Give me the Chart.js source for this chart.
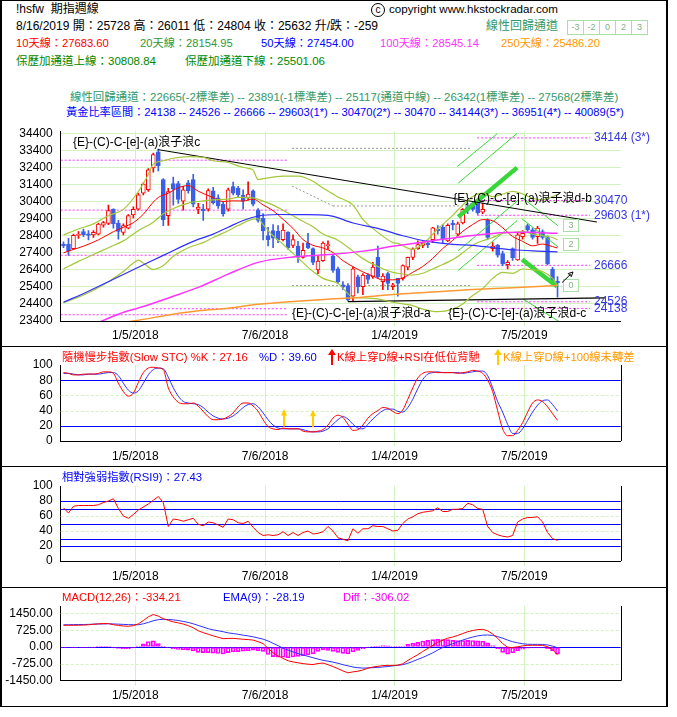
<!DOCTYPE html>
<html>
<head>
<meta charset="utf-8">
<script src="https://cdn.jsdelivr.net/npm/chart.js@4.4.0/dist/chart.umd.min.js"></script>
<style>
body{margin:0;background:#fff;}
#page{position:relative;width:677px;height:717px;overflow:hidden;font-family:"Liberation Sans","Noto Sans CJK TC",sans-serif;font-size:12px;}
.t{position:absolute;white-space:nowrap;line-height:14px;}
.s{font-size:11.3px;}
canvas{position:absolute;left:0;}
.f{position:absolute;background:#000;z-index:5;}
.bx{position:absolute;top:20px;width:15px;height:13px;border:1px solid #a8e0a8;color:#7fb07f;font-size:9px;line-height:13px;text-align:center;}
</style>
</head>
<body>
<div id="page">
  <div class="t" style="left:16px;top:2px;">!hsfw&nbsp;&nbsp;期指週線</div>
  <div class="t" style="left:371px;top:3px;width:12px;height:12px;border:1px solid #000;border-radius:50%;text-align:center;line-height:12px;font-size:10px;">c</div>
  <div class="t" style="left:389px;top:2px;font-size:11.6px;">copyright www.hkstockradar.com</div>
  <div class="t" style="left:16px;top:19px;">8/16/2019 開：25728 高：26011 低：24804 收：25632 升/跌：-259</div>
  <div class="t" style="left:486px;top:19px;color:#339966;">線性回歸通道</div>
  <div class="bx" style="left:567px;">-3</div>
  <div class="bx" style="left:583px;">-2</div>
  <div class="bx" style="left:599px;">0</div>
  <div class="bx" style="left:615px;">2</div>
  <div class="bx" style="left:631px;">3</div>
  <div class="t" style="left:16px;top:36px;color:#ff0000;font-size:11.2px;">10天線：27683.60</div>
  <div class="t" style="left:140px;top:36px;color:#339933;font-size:11.2px;">20天線：28154.95</div>
  <div class="t" style="left:261px;top:36px;color:#0000ff;font-size:11.2px;">50天線：27454.00</div>
  <div class="t" style="left:380px;top:36px;color:#ff33ff;font-size:11.2px;">100天線：28545.14</div>
  <div class="t" style="left:501px;top:36px;color:#ff9900;font-size:11.2px;">250天線：25486.20</div>
  <div class="t" style="left:16px;top:54px;color:#008800;font-size:11.5px;">保歷加通道上線：30808.84</div>
  <div class="t" style="left:185px;top:54px;color:#008800;font-size:11.5px;">保歷加通道下線：25501.06</div>
  <div class="t" style="left:70px;top:90px;color:#339966;font-size:11.45px;">線性回歸通道：22665(-2標準差) -- 23891(-1標準差) -- 25117(通道中線) -- 26342(1標準差) -- 27568(2標準差)</div>
  <div class="t" style="left:66px;top:105px;color:#0000ff;font-size:11.2px;">黃金比率區間：24138 -- 24526 -- 26666 -- 29603(1*) -- 30470(2*) -- 30470 -- 34144(3*) -- 36951(4*) -- 40089(5*)</div>

  <canvas id="mainChart" width="677" height="230" style="top:116px"></canvas>
  <canvas id="stochChart" width="677" height="119" style="top:347px"></canvas>
  <canvas id="rsiChart" width="677" height="120" style="top:467px"></canvas>
  <canvas id="macdChart" width="677" height="118" style="top:588px"></canvas>

  <div class="t s" style="left:62px;top:350px;color:#ff0000;z-index:6">隨機慢步指數(Slow STC) %K：27.16</div>
  <div class="t s" style="left:259px;top:350px;color:#0000ff;z-index:6">%D：39.60</div>
  <svg class="t" style="left:328px;top:349px;z-index:6" width="8" height="16"><path d="M4 0 L8 6 L5 6 L5 16 L3 16 L3 6 L0 6 Z" fill="#ff0000"/></svg>
  <div class="t s" style="left:337px;top:350px;color:#ff0000;z-index:6">K線上穿D線+RSI在低位背馳</div>
  <svg class="t" style="left:494px;top:349px;z-index:6" width="8" height="16"><path d="M4 0 L8 6 L5 6 L5 16 L3 16 L3 6 L0 6 Z" fill="#ffcc00"/></svg>
  <div class="t s" style="left:503px;top:350px;color:#ff9900;z-index:6">K線上穿D線+100線未轉差</div>
  <div class="t s" style="left:62px;top:470px;color:#0000ff;z-index:6">相對強弱指數(RSI9)：27.43</div>
  <div class="t s" style="left:62px;top:590px;color:#ff0000;z-index:6">MACD(12,26)：-334.21</div>
  <div class="t s" style="left:223px;top:590px;color:#0000ff;z-index:6">EMA(9)：-28.19</div>
  <div class="t s" style="left:343px;top:590px;color:#ff00ff;z-index:6">Diff：-306.02</div>

  <div class="f" style="left:0;top:0;width:668px;height:1px"></div>
  <div class="f" style="left:0;top:0;width:2px;height:707px"></div>
  <div class="f" style="left:666px;top:0;width:2px;height:707px"></div>
  <div class="f" style="left:0;top:346px;width:668px;height:1px"></div>
  <div class="f" style="left:0;top:466px;width:668px;height:1px"></div>
  <div class="f" style="left:0;top:587px;width:668px;height:1px"></div>
  <div class="f" style="left:0;top:706px;width:668px;height:1px"></div>
</div>
<script>
// weekly bars, 9/22/2017 .. 8/16/2019 (index = week number)
const dates = ['1/5/2018', '7/6/2018', '1/4/2019', '7/5/2019'];
const datePos = [14.4, 40.4, 66.35, 92.35];

const open = [27920,27920,27650,28420,28650,28520,28450,28500,29020,29120,
  29960,29150,28600,28850,29620,29960,30900,31100,32380,33320,
  31700,29580,31470,31470,30430,31500,31700,29950,29960,29960,
  31040,30620,30240,29960,31280,31190,30770,30620,31040,29920,
  29430,28410,28700,28680,28170,28600,27840,27790,27130,27970,
  27650,26400,26940,27820,27220,26460,25520,25460,24860,25990,
  25420,26090,25990,27130,25710,26180,25420,25900,25900,26560,
  27130,27650,27840,27970,28170,28800,28900,28100,29150,28500,
  29150,30100,30300,30350,29780,29300,27650,27840,27350,26710,
  27650,26980,28350,29000,28750,28350,28650,28300,26450,25728];
const high = [28050,28250,28500,28650,28800,28700,28700,29150,29250,30200,
  29980,29300,29100,29650,30100,30900,31500,32350,33250,33480,
  31750,31190,31850,31600,31300,31650,32000,30300,30250,31150,
  31250,30800,30400,31200,31550,31300,31100,31570,31100,30000,
  29700,28900,29050,29000,29100,28650,28450,28070,27970,28540,
  27700,27220,28050,28100,27300,26560,25710,25600,26560,26100,
  26180,26180,26840,27790,26180,26270,25610,25900,26700,27150,
  27700,28100,28050,28100,28900,29000,29050,29100,29300,29200,
  30000,30300,30400,30400,30300,29400,28000,27900,27500,26950,
  27700,28550,28700,29100,28850,28950,28750,28400,26550,26011];
const low = [27700,27250,27600,28250,28350,28150,28300,28450,28900,29050,
  28850,28200,28450,28800,29450,29900,30800,31000,32130,32200,
  29000,29015,30200,30300,29900,30900,30100,29700,29300,29850,
  30250,30000,29550,29850,30800,30700,29960,30500,30150,29200,
  28150,27800,27700,28000,28100,27600,27700,26840,27090,27650,
  26710,26180,26900,27600,26250,25610,25240,24570,24570,25050,
  24950,25610,25900,25900,25240,25240,25240,24860,25800,26400,
  27000,27600,27700,27700,28000,28500,28000,28050,28750,28400,
  29100,29700,29850,29650,29700,28200,27500,27150,26650,26460,
  26950,26950,28200,28650,28200,27950,28200,26700,25600,24804];
const close = [27800,27500,28420,28480,28470,28420,28600,29080,29170,29880,
  29100,28650,29000,29580,29950,30810,31430,32270,33170,32510,
  29350,31000,31130,30530,31090,31050,30250,30080,29870,31050,
  30340,30150,29680,31090,30900,30810,30430,30850,30250,29300,
  28680,28170,28260,28170,28730,27690,28170,27130,27540,27690,
  26840,26920,27970,27880,26370,25710,25390,24630,26460,25420,
  26090,25840,26560,25990,26030,25610,25520,25610,26650,27130,
  27640,27880,27970,27880,28860,28700,28200,29020,29050,29100,
  29950,29900,29950,29750,29950,28300,27790,27260,26750,26840,
  27100,28450,28550,28750,28300,28850,28300,26750,25760,25632];

// moving averages / bands, [week, value]
const ma10 = [[0,27400],[2,27600],[4,27790],[7,28160],[10,28640],[12,28900],[14,29170],[16,29665],[18,30380],[19,30650],
  [21,30900],[23,31215],[25,31350],[27,31016],[30,30640],[32,30410],[34,30450],[36,30440],[38,30555],[40,30210],
  [42,29870],[44,29365],[46,28830],[48,28180],[50,27840],[52,27685],[54,27420],[56,26940],[58,26590],[60,26280],
  [62,26035],[64,25810],[66,25815],[68,25930],[70,26260],[72,26600],[74,27075],[76,27650],[78,28130],[80,28660],
  [82,29060],[84,29350],[86,29280],[88,28870],[90,28360],[92,28075],[94,27810],[96,27915],[98,27765],[99,27684]];
const ma20 = [[0,26460],[3,26900],[6,27300],[9,27700],[12,28100],[15,28700],[18,29200],[20,29690],[22,30000],[25,30320],
  [28,30450],[30,30510],[33,30550],[35,30650],[38,30620],[40,30430],[42,30200],[44,29900],[47,29400],[50,28930],
  [52,28500],[55,28140],[58,27500],[60,27060],[63,26600],[66,26250],[67,26200],[70,26100],[72,26200],[75,26590],
  [78,27000],[80,27400],[82,27850],[84,28110],[86,28300],[88,28550],[90,28600],[92,28650],[94,28500],[96,28400],
  [98,28300],[99,28155]];
const bbUpper = [[0,28450],[3,28800],[6,29100],[9,29580],[12,29950],[15,31000],[17,32000],[18,32600],[20,32800],[22,32950],
  [25,33050],[28,33000],[30,32800],[33,32700],[35,32500],[37,32350],[38,32250],[39,31700],[40,31750],[44,31900],
  [47,31900],[50,31600],[52,31200],[55,30680],[58,30200],[60,29360],[63,28600],[66,28000],[67,27950],[70,27600],
  [72,27900],[75,28800],[78,29600],[80,30200],[82,30700],[84,30900],[86,30700],[88,30850],[90,31000],[92,30850],
  [94,30600],[96,30500],[98,30700],[99,30809]];
const bbLower = [[0,24480],[3,24800],[6,25200],[9,25700],[12,26300],[14,26800],[15,26970],[16,26800],[18,26420],[20,26650],
  [22,27200],[25,27700],[28,28000],[30,28300],[33,28700],[35,29000],[38,29380],[39,29400],[40,29050],[42,28400],
  [44,27900],[47,27100],[50,26300],[52,25900],[55,25600],[58,24800],[60,24760],[63,24700],[66,24500],[68,24400],
  [70,24300],[72,24100],[75,23950],[78,24100],[80,24400],[82,24900],[84,25300],[86,25900],[88,26250],[90,26200],
  [92,26450],[94,26400],[96,26300],[98,25900],[99,25501]];
const ma50 = [[0,24500],[5,25150],[10,25850],[15,26550],[20,27250],[26,28070],[30,28500],[33,28900],[36,29300],[39,29560],
  [43,29650],[48,29640],[53,29600],[58,29150],[63,28830],[68,28400],[73,28070],[78,27900],[82,27840],[86,27700],
  [90,27580],[95,27500],[99,27454]];
const ma100 = [[0,22300],[3,22750],[7,23310],[11,23800],[16,24250],[22,24850],[27,25370],[33,26150],[39,26840],[46,27160],
  [54,27310],[60,27500],[66,27780],[73,28070],[80,28350],[86,28540],[93,28600],[99,28545]];
const ma250 = [[0,22700],[7,23100],[15,23450],[22,23800],[27,24000],[33,24150],[39,24380],[46,24550],[54,24700],[60,24800],
  [66,24950],[73,25080],[81,25230],[90,25350],[99,25486]];

// drawn lines: [week0, value0, week1, value1]
const trendTop = [18.9, 33457, 106.9, 29207];
const trendBottom = [57, 24540, 108.5, 24760];
const upChannel = [[78.9, 32460, 86.9, 34390], [79.1, 31490, 90.9, 34410], [79.1, 29510, 90.9, 32400],
  [79.1, 27520, 90.9, 30430], [79.1, 26370, 90.9, 29290]];
const downChannel = [[91.9, 30640, 99.1, 28990], [91.9, 29390, 99.1, 27750], [91.9, 27010, 98.9, 25420],
  [92.1, 24690, 99.5, 23330]];
const grayLines = [[45.8, 33530, 81.5, 33530], [45.8, 31320, 54, 30150], [54, 30150, 81.5, 30150], [45.8, 25480, 81.5, 25480]];
const goldOld = [32835, 29905, 27257, 23765];
const goldOld2 = 24120;
const goldNew = [34144, 30470, 29603, 26666, 24526, 24138];
const goldTags = [' (3*)', '', ' (1*)', '', '', ''];

const stochK = [90,89,87,87,88,88,88,89,91,91, 89,76,65,59,63,77,90,96,97,96,
  94,70,58,51,49,49,50,46,39,32, 28,28,29,32,37,45,50,50,46,39,
  28,19,16,15,17,16,16,16,13,12, 12,13,15,21,30,34,31,22,14,15,
  21,30,36,40,44,43,39,36,41,55, 70,83,89,91,91,90,90,90,90,89,
  90,91,93,92,89,80,65,40,16,7, 7,14,24,38,50,54,52,45,36,27.16];
const stochD = [89,89,88,87,87,88,88,88,89,90, 90,86,76,67,63,66,76,87,94,96,
  95,84,70,59,52,50,49,48,44,38, 33,30,29,30,33,38,44,48,49,45,
  37,28,21,17,16,16,16,16,15,13, 12,12,13,16,22,28,32,29,22,17,
  16,22,29,35,40,42,42,39,38,44, 55,69,81,88,90,91,90,90,90,90,
  89,90,91,92,92,86,70,52,38,22, 10,10,16,27,38,47,53,54,48,39.6];
const rsi9 = [71,64,73,74,74,74,74,75,78,80, 83,70,60,57,62,68,72,76,81,86,
  78,46,56,55,53,55,57,49,47,52, 51,48,45,56,55,51,50,53,45,38,
  34,35,34,35,39,34,38,34,38,40, 36,37,39,46,40,31,29,27,43,37,
  43,43,47,46,46,43,40,41,50,56, 59,63,65,66,67,71,66,66,69,69,
  70,77,75,70,69,46,38,35,33,32, 34,52,56,58,58,59,52,38,30,27.43];
const macd = [937,937,937,940,945,960,980,1000,1010,1010, 960,930,905,894,920,1000,1140,1300,1400,1330,
  1220,1150,1084,1040,990,920,830,700,620,550, 480,420,360,370,375,355,335,320,300,230,
  150,-60,-250,-380,-490,-590,-640,-680,-715,-740, -755,-710,-690,-760,-840,-930,-1030,-1110,-1070,-1040,
  -990,-910,-860,-830,-800,-791,-791,-780,-720,-580, -450,-330,-190,-60,70,200,300,380,430,500,
  580,660,710,750,760,700,560,380,150,-10, -20,10,50,72,75,75,70,20,-120,-334.21];
const ema9 = [955,960,965,968,970,975,985,990,995,1000, 995,985,975,965,960,960,1000,1060,1130,1180,
  1190,1185,1170,1143,1100,1060,1000,930,860,790, 740,700,660,610,580,550,510,480,440,390,
  340,260,160,60,-50,-130,-210,-280,-340,-400, -460,-520,-570,-610,-650,-700,-760,-810,-860,-890,
  -908,-900,-890,-875,-860,-840,-810,-790,-760,-700, -620,-530,-450,-350,-250,-130,-20,60,140,220,
  300,370,430,480,510,520,500,450,380,300, 230,180,140,120,115,115,110,90,40,-28.19];
const diff = [-18,-23,-28,-28,-25,-15,-5,10,15,10, -35,-55,-70,-71,-40,40,140,240,270,150,
  30,-35,-86,-103,-110,-140,-170,-230,-240,-240, -260,-280,-300,-240,-205,-195,-175,-160,-140,-160,
  -190,-320,-410,-440,-440,-460,-430,-400,-375,-340, -295,-190,-120,-150,-190,-230,-270,-300,-210,-150,
  -82,-10,30,45,60,49,19,10,40,120, 170,200,260,290,320,330,320,320,290,280,
  280,290,280,270,250,180,60,-70,-230,-310, -250,-170,-90,-48,-40,-40,-40,-70,-160,-306.02];

const priceTicks = [23400,24400,25400,26400,27400,28400,29400,30400,31400,32400,33400,34400];
const pctTicks = [0,20,40,60,80,100];
const macdTicks = [-1450,-725,0,725,1450];

const FONT = '"Liberation Sans", "Noto Sans CJK TC", sans-serif';
const GRID = '#d2f2c2';
const RED = '#ff0000', CANDLE_BLUE = '#3b5fe8', LINE_BLUE = '#2f2fff';
const YGREEN = '#a3c93a', MAGENTA = '#ff33ff', ORANGE = '#ff9933', GREEN = '#39d639';
const X_MIN = -0.56, X_MAX = 111.66;

Chart.defaults.font.family = FONT;
Chart.defaults.font.size = 12;
Chart.defaults.color = '#000';

const weeks = close.map((c, i) => i);
const pts = arr => arr.map(([x, y]) => ({x, y}));
const series = arr => arr.map((y, x) => ({x, y}));
const seg = s => [{x: s[0], y: s[1]}, {x: s[2], y: s[3]}];

const line = (data, color, width, extra) => Object.assign({
  type: 'line', data: data, borderColor: color, borderWidth: width,
  pointRadius: 0, fill: false, order: 1, cubicInterpolationMode: 'monotone'
}, extra || {});

function xScale(h, pad){
  return {
    type: 'linear', min: X_MIN, max: X_MAX, offset: false,
    afterBuildTicks: s => { s.ticks = datePos.map(v => ({value: v})); },
    afterFit: s => { s.height = h; },
    ticks: {callback: (v, i) => dates[i], padding: pad, maxRotation: 0, autoSkip: false},
    grid: {color: GRID, tickColor: GRID, tickLength: 5, offset: false},
    border: {color: '#000'}
  };
}

function yScale(min, max, ticks, fmt, gridColor){
  return {
    min: min, max: max,
    afterBuildTicks: s => { s.ticks = ticks.map(v => ({value: v})); },
    afterFit: s => { s.width = 60.7; },
    ticks: {callback: fmt, padding: 8, autoSkip: false},
    grid: {color: gridColor, drawTicks: false},
    border: {color: '#000'}
  };
}

// extra drawing: reference levels, labels, arrows, boxes
function decor(cfg){
  return {
    id: 'decor',
    beforeDatasetsDraw(chart){
      const {ctx, chartArea: a, scales: {y}} = chart;
      ctx.save();
      (cfg.levels || []).forEach(h => {
        const py = Math.round(y.getPixelForValue(h.v)) + 0.5;
        ctx.strokeStyle = h.color;
        ctx.lineWidth = 1;
        ctx.setLineDash(h.dash || []);
        ctx.beginPath(); ctx.moveTo(a.left, py); ctx.lineTo(a.right, py); ctx.stroke();
      });
      ctx.restore();
    },
    afterDatasetsDraw(chart){
      const {ctx, chartArea: a, scales: {x, y}} = chart;
      ctx.save();
      ctx.textBaseline = 'middle';
      (cfg.texts || []).forEach(t => {
        ctx.font = '12px ' + FONT;
        ctx.fillStyle = t.color || '#000';
        ctx.fillText(t.t, x.getPixelForValue(t.x), y.getPixelForValue(t.y));
      });
      (cfg.boxes || []).forEach(b => {
        const px = Math.round(x.getPixelForValue(b.x)) + 0.5, py = Math.round(y.getPixelForValue(b.y)) - 6 + 0.5;
        ctx.fillStyle = '#fff';
        ctx.fillRect(px, py, 15, 12);
        ctx.strokeStyle = '#a8e0a8';
        ctx.lineWidth = 1;
        ctx.strokeRect(px, py, 15, 12);
        ctx.font = '9px ' + FONT;
        ctx.fillStyle = '#7fb07f';
        ctx.textAlign = 'center';
        ctx.fillText(b.t, px + 7.5, py + 6.5);
        ctx.textAlign = 'left';
      });
      (cfg.arrows || []).forEach(r => {
        const x0 = x.getPixelForValue(r.x0), y0 = y.getPixelForValue(r.y0);
        const x1 = x.getPixelForValue(r.x1), y1 = y.getPixelForValue(r.y1);
        const ang = Math.atan2(y1 - y0, x1 - x0), hl = r.head || 5;
        ctx.strokeStyle = r.color; ctx.fillStyle = r.color; ctx.lineWidth = r.width || 1;
        ctx.beginPath(); ctx.moveTo(x0, y0); ctx.lineTo(x1 - Math.cos(ang) * hl * 0.6, y1 - Math.sin(ang) * hl * 0.6); ctx.stroke();
        ctx.beginPath();
        ctx.moveTo(x1, y1);
        ctx.lineTo(x1 - hl * Math.cos(ang - 0.45), y1 - hl * Math.sin(ang - 0.45));
        ctx.lineTo(x1 - hl * Math.cos(ang + 0.45), y1 - hl * Math.sin(ang + 0.45));
        ctx.closePath();
        if(r.open){ ctx.stroke(); }else{ ctx.fill(); }
      });
      if(cfg.frameRight){
        ctx.strokeStyle = '#000'; ctx.lineWidth = 1;
        const rx = Math.round(a.right) + 0.5;
        ctx.beginPath(); ctx.moveTo(rx, a.top); ctx.lineTo(rx, a.bottom); ctx.stroke();
      }
      ctx.restore();
    }
  };
}

const baseOptions = (top, bottomH, xPad, scaleY) => ({
  responsive: false, animation: false, events: [],
  layout: {padding: {left: 0, right: 56.3, top: top, bottom: 0}},
  plugins: {legend: {display: false}, tooltip: {enabled: false}},
  scales: {x: xScale(bottomH, xPad), y: scaleY}
});

// ---- main price panel ----
const up = weeks.map(i => close[i] >= open[i]);
const mainSets = [
  {type: 'bar', data: weeks.map(i => ({x: i, y: [low[i], high[i]]})),
   backgroundColor: weeks.map(i => up[i] ? RED : CANDLE_BLUE), barThickness: 1, grouped: false, order: 5},
  {type: 'bar', data: weeks.map(i => ({x: i, y: [Math.min(open[i], close[i]), Math.max(open[i], close[i])]})),
   backgroundColor: weeks.map(i => up[i] ? '#fff' : CANDLE_BLUE), borderColor: weeks.map(i => up[i] ? RED : CANDLE_BLUE),
   borderWidth: 1, borderSkipped: false, barThickness: 4, grouped: false, order: 4},
  line(pts(ma250), ORANGE, 1.5),
  line(pts(ma100), MAGENTA, 1.5),
  line(pts(ma50), LINE_BLUE, 1.2),
  line(pts(bbLower), YGREEN, 1.2),
  line(pts(bbUpper), YGREEN, 1.2),
  line(pts(ma20), YGREEN, 1.2),
  line(pts(ma10), RED, 1),
  line(seg(trendTop), '#000', 1),
  line(seg(trendBottom), '#000', 1.2)
];
goldOld.forEach(v => mainSets.push(line(seg([X_MIN, v, 44.8, v]), MAGENTA, 1, {borderDash: [2, 2], order: 6})));
mainSets.push(line(seg([17.7, goldOld2, 44.8, goldOld2]), MAGENTA, 1, {borderDash: [2, 2], order: 6}));
goldNew.forEach(v => mainSets.push(line(seg([82.9, v, 105.5, v]), MAGENTA, 1, {borderDash: [2, 2], order: 6})));
grayLines.forEach(s => mainSets.push(line(seg(s), '#999', 1, {borderDash: [2, 2], order: 6})));
upChannel.forEach((s, k) => mainSets.push(line(seg(s), GREEN, k === 2 ? 4.5 : 1)));
downChannel.forEach((s, k) => mainSets.push(line(seg(s), GREEN, k === 2 ? 4.5 : 1)));

const waveText = '{E}-(C)-C-[e]-(a)浪子浪';
new Chart(document.getElementById('mainChart'), {
  type: 'bar',
  data: {datasets: mainSets},
  options: baseOptions(8.3, 25, 2, yScale(23400, 34536, priceTicks, v => String(v), GRID)),
  plugins: [decor({
    texts: [
      {x: 1.9, y: 33833, t: waveText + 'c'},
      {x: 78.1, y: 30585, t: waveText + 'd-b'},
      {x: 45.8, y: 23839, t: waveText + 'd-a'},
      {x: 77.1, y: 23839, t: waveText + 'd-c'}
    ].concat(goldNew.map((v, k) => ({x: 106.3, y: v, t: v + goldTags[k], color: '#3535e8'}))),
    boxes: [{x: 100.1, y: 29054, t: '3'}, {x: 100.1, y: 27920, t: '2'}, {x: 100.1, y: 25483, t: '0'}],
    arrows: [{x0: 99.9, y0: 25653, x1: 102.1, y1: 26277, color: '#000', head: 5, open: true}]
  })]
});

// ---- slow stochastic ----
new Chart(document.getElementById('stochChart'), {
  type: 'line',
  data: {datasets: [line(series(stochK), RED, 1), line(series(stochD), LINE_BLUE, 1)]},
  options: baseOptions(18, 25, 3, yScale(0, 100, pctTicks, v => String(v), 'rgba(0,0,0,0)')),
  plugins: [decor({
    levels: [{v: 40, color: GRID, dash: [3, 2]}, {v: 60, color: GRID, dash: [3, 2]},
             {v: 80, color: '#0000ff'}, {v: 20, color: '#0000ff'}],
    arrows: [{x0: 44.2, y0: 19, x1: 44.2, y1: 42, color: '#ffcc00', width: 2, head: 7},
             {x0: 50, y0: 18, x1: 50, y1: 41, color: '#ffcc00', width: 2, head: 7}],
    frameRight: true
  })]
});

// ---- RSI ----
new Chart(document.getElementById('rsiChart'), {
  type: 'line',
  data: {datasets: [line(series(rsi9), RED, 1, {cubicInterpolationMode: 'default', tension: 0})]},
  options: baseOptions(19, 26, 3, yScale(0, 100, pctTicks, v => String(v), 'rgba(0,0,0,0)')),
  plugins: [decor({
    levels: [{v: 40, color: GRID, dash: [3, 2]}, {v: 60, color: GRID, dash: [3, 2]},
             {v: 80, color: '#0000ff'}, {v: 70, color: '#0000ff'}, {v: 50, color: '#0000ff'},
             {v: 30, color: '#0000ff'}, {v: 20, color: '#0000ff'}],
    frameRight: true
  })]
});

// ---- MACD ----
new Chart(document.getElementById('macdChart'), {
  type: 'bar',
  data: {datasets: [
    {type: 'bar', data: series(diff), backgroundColor: 'rgba(0,0,0,0)', borderColor: '#ff00ff',
     borderWidth: 1, borderSkipped: false, barThickness: 4, grouped: false, order: 3},
    line(series(macd), RED, 1, {cubicInterpolationMode: 'default', tension: 0}),
    line(series(ema9), LINE_BLUE, 1, {cubicInterpolationMode: 'default', tension: 0})
  ]},
  options: baseOptions(18, 25.3, 3, yScale(-1450, 1767, macdTicks, v => v.toFixed(2), 'rgba(0,0,0,0)')),
  plugins: [decor({
    levels: [{v: 1450, color: GRID, dash: [3, 2]}, {v: 725, color: GRID, dash: [3, 2]},
             {v: -725, color: GRID, dash: [3, 2]}, {v: 0, color: '#0000ff'}],
    frameRight: true
  })]
});
</script>
</body>
</html>
